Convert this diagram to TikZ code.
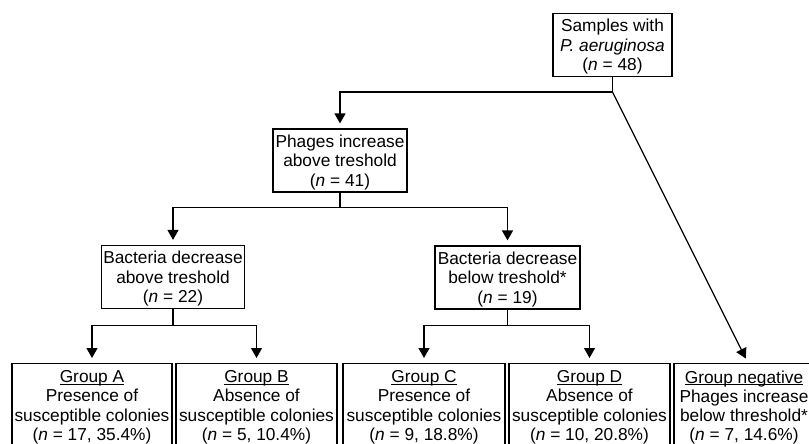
\documentclass[tikz,border=0pt]{standalone}
\usepackage{fontspec}
\setmainfont{Liberation Sans}
\usetikzlibrary{arrows.meta,positioning,calc}
\newcommand{\grpname}[1]{\setbox0\hbox{#1}\rlap{\rule[-2pt]{\wd0}{0.9pt}}\box0}

\begin{document}
\begin{tikzpicture}[
    x=1pt, y=-1pt,
    stepbox/.style={draw, line width=1.2pt, font=\fontsize{17.3}{19.5}\selectfont, align=center, inner xsep=2pt, inner ysep=2pt, text height=55pt, text depth=4pt},
    groupbox/.style={draw, line width=1.2pt, font=\fontsize{17.3}{19.2}\selectfont, align=center, inner xsep=2pt, inner ysep=7pt, minimum width=161pt, anchor=north},
    link/.style={line width=1.2pt, -{Triangle[width=11pt,length=10pt]}, shorten >=5pt},
    >=Stealth
  ]
  \useasboundingbox (0,0) rectangle (809,444);

  \node[stepbox, minimum width=119pt] (samples) at (612.5, 45) {Samples with\\\textit{P. aeruginosa}\\(\textit{n} = 48)};
  \node[stepbox, minimum width=134pt] (phages) at (340, 160.5) {Phages increase\\above treshold\\(\textit{n} = 41)};
  \node[stepbox, minimum width=140pt] (bacabove) at (173, 277) {Bacteria decrease\\above treshold\\(\textit{n} = 22)};
  \node[stepbox, minimum width=145pt] (bacbelow) at (507.5, 277.5) {Bacteria decrease\\below treshold*\\(\textit{n} = 19)};
  \node[groupbox, minimum width=160pt] (groupA) at (92, 363) {\grpname{Group A}\\Presence of\\susceptible colonies\\(\textit{n} = 17, 35.4\%)};
  \node[groupbox] (groupB) at (256.5, 363) {\grpname{Group B}\\Absence of\\susceptible colonies\\(\textit{n} = 5, 10.4\%)};
  \node[groupbox, minimum width=162pt] (groupC) at (424, 363) {\grpname{Group C}\\Presence of\\susceptible colonies\\(\textit{n} = 9, 18.8\%)};
  \node[groupbox] (groupD) at (589.5, 363) {\grpname{Group D}\\Absence of\\susceptible colonies\\(\textit{n} = 10, 20.8\%)};
  \node[groupbox, minimum width=140pt] (groupneg) at (744, 363) {\grpname{Group negative}\\Phages increase\\below threshold*\\(\textit{n} = 7, 14.6\%)};

  \draw[link] (samples.south) -- ++(0,15) coordinate (split) -| (phages.north);
  \draw[link] (split) -- ([xshift=4pt]groupneg.north);
  \draw[link] (phages.south) -- ++(0,15) -| (bacabove.north);
  \draw[link] (phages.south) -- ++(0,15) -| (bacbelow.north);
  \draw[link] (bacabove.south) -- ++(0,16) -| (groupA.north);
  \draw[link] (bacabove.south) -- ++(0,16) -| (groupB.north);
  \draw[link] (bacbelow.south) -- ++(0,16) -| (groupC.north);
  \draw[link] (bacbelow.south) -- ++(0,16) -| (groupD.north);
\end{tikzpicture}
\end{document}
